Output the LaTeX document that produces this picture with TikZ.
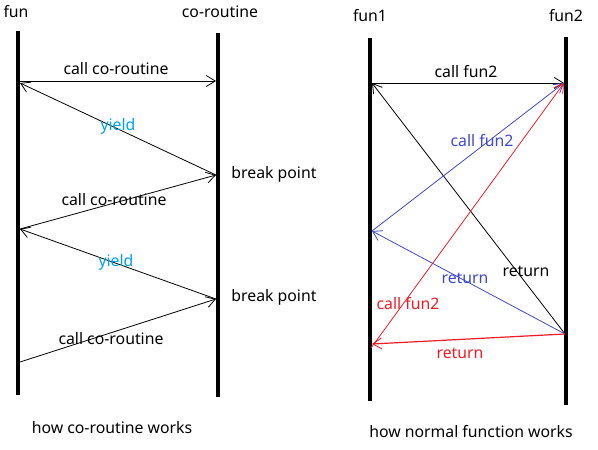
\documentclass[tikz,border=0pt]{standalone}
\usepackage{fontspec}
\setmainfont{Noto Sans}
\usepackage{tikz}
\usetikzlibrary{arrows.meta}
\definecolor{yieldcol}{RGB}{0,162,232}
\definecolor{bluecol}{RGB}{63,72,204}
\definecolor{redcol}{RGB}{237,28,36}
\tikzstyle{lifeline} = [draw=black, line width=3.5pt]
\tikzstyle{msg} = [draw=black, line width=0.8pt,
    -{Straight Barb[length=9pt, width=11pt, line width=0.8pt]}]
\tikzstyle{lbl} = [inner sep=0pt, font=\fontsize{15.8}{18}\selectfont]

\begin{document}
\begin{tikzpicture}[x=1pt, y=-1pt]
                \useasboundingbox (0,0) rectangle (598,450);
                % left: how co-routine works
                \coordinate (funtop) at (18,31);
                \coordinate (funbot) at (18,395);
                \coordinate (cotop) at (218,33);
                \coordinate (cobot) at (218,397);
                \draw[lifeline] (funtop) -- (funbot);
                \draw[lifeline] (cotop) -- (cobot);
                \node[lbl] (funlbl) at (16,12) {fun};
                \node[lbl] (colbl) at (220,12) {co-routine};
                \coordinate (fa) at (20,81);
                \coordinate (fb) at (20,83);
                \coordinate (fc) at (20,229);
                \coordinate (fd) at (20,362);
                \coordinate (ca) at (216,81);
                \coordinate (cb) at (216,175);
                \coordinate (cc) at (216,299);
                \draw[msg] (fa) -- (ca);
                \draw[msg] (cb) -- (fb);
                \draw[msg] (fc) -- (cb);
                \draw[msg] (cc) -- (fc);
                \draw[msg] (fd) -- (cc);
                \node[lbl] (call1) at (116,69) {call co-routine};
                \node[lbl, text=yieldcol] (yield1) at (118,126) {yield};
                \node[lbl] (brk1) at (274,174) {break point};
                \node[lbl] (call2) at (114,200) {call co-routine};
                \node[lbl, text=yieldcol] (yield2) at (116,262) {yield};
                \node[lbl] (brk2) at (274,297) {break point};
                \node[lbl] (call3) at (111,339) {call co-routine};
                \node[lbl] (cotitle) at (112,428) {how co-routine works};
                % right: how normal function works
                \coordinate (fonetop) at (370,38);
                \coordinate (fonebot) at (370,401);
                \coordinate (ftwotop) at (566,37);
                \coordinate (ftwobot) at (566,405);
                \draw[lifeline] (fonetop) -- (fonebot);
                \draw[lifeline] (ftwotop) -- (ftwobot);
                \node[lbl] (fonelbl) at (370,16) {fun1};
                \node[lbl] (ftwolbl) at (566,16) {fun2};
                \coordinate (pa) at (372,83);
                \coordinate (pb) at (372,231);
                \coordinate (pc) at (371,348);
                \coordinate (pd) at (372,344);
                \coordinate (qa) at (564,83);
                \coordinate (qb) at (565,334);
                \draw[msg] (pa) -- (qa);
                \draw[msg] (qb) -- (pa);
                \draw[msg, draw=bluecol, -{Straight Barb[length=9pt, width=11pt, line width=0.8pt, color=bluecol]}] (pb) -- (qa);
                \draw[msg, draw=bluecol, -{Straight Barb[length=9pt, width=11pt, line width=0.8pt, color=bluecol]}] (qb) -- (pb);
                \draw[msg, draw=redcol, -{Straight Barb[length=9pt, width=11pt, line width=0.8pt, color=redcol]}] (pc) -- (qa);
                \draw[msg, draw=redcol, line width=1.2pt, -{Straight Barb[length=9pt, width=11pt, line width=0.8pt, color=redcol]}] (qb) -- (pd);
                \node[lbl] (callblack) at (466,72) {call fun2};
                \node[lbl, text=bluecol] (callblue) at (482,141) {call fun2};
                \node[lbl] (retblack) at (526,271) {return};
                \node[lbl, text=bluecol] (retblue) at (465,278) {return};
                \node[lbl, text=redcol] (callred) at (408,304) {call fun2};
                \node[lbl, text=redcol] (retred) at (460,353) {return};
                \node[lbl] (nftitle) at (471,432) {how normal function works};
            \end{tikzpicture}
\end{document}
